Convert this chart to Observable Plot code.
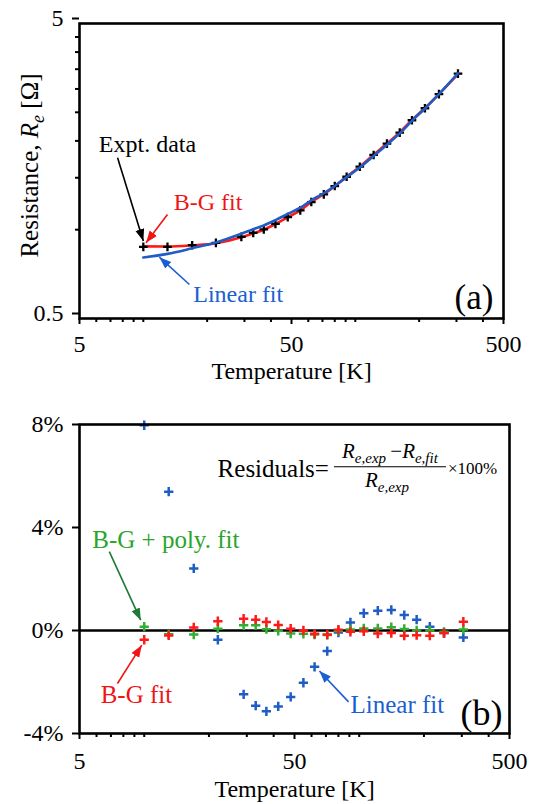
<!DOCTYPE html>
<html><head><meta charset="utf-8">
<script src="https://cdn.jsdelivr.net/npm/d3@7"></script>
<script src="https://cdn.jsdelivr.net/npm/@observablehq/plot@0.6"></script>
<style>
html,body{margin:0;padding:0;background:#fff;}
body{width:536px;height:804px;overflow:hidden;font-family:"Liberation Serif",serif;}
#a svg,#b svg{display:block;}
</style></head><body>
<div id="a"></div><div id="b"></div>
<script>
// ---- data ----
const temps = [10,13,17,22,29,33,37,42,48,55,62,71,80,91,105,122,141,162,185,213,248,305];
const resistance = [0.875,0.875,0.886,0.902,0.946,0.976,1.003,1.047,1.103,1.163,1.241,1.318,1.406,1.512,1.635,1.792,1.957,2.133,2.35,2.58,2.88,3.38];
const bgFit = [0.878,0.877,0.885,0.899,0.942,0.972,1.000,1.045,1.102,1.163,1.242,1.320,1.405,1.513,1.635,1.794,1.959,2.137,2.354,2.585,2.882,3.368];
const linearFit = [0.805,0.828,0.865,0.905,0.969,1.004,1.034,1.078,1.131,1.187,1.258,1.329,1.407,1.507,1.624,1.778,1.941,2.120,2.339,2.576,2.883,3.389];
const residualLinear = [7.97,5.39,2.41,-0.36,-2.48,-2.92,-3.14,-2.95,-2.58,-2.03,-1.41,-0.80,-0.08,0.31,0.67,0.77,0.80,0.60,0.42,0.15,-0.10,-0.27];
const residualBG = [-0.36,-0.19,0.12,0.36,0.46,0.42,0.33,0.21,0.07,0.0,-0.13,-0.16,0.03,-0.05,-0.03,-0.12,-0.10,-0.20,-0.18,-0.20,-0.10,0.34];
const residualBGPoly = [0.15,-0.15,-0.16,0.07,0.20,0.20,0.05,-0.01,-0.12,-0.13,-0.16,-0.17,-0.02,0.04,0.08,0.08,0.13,0.06,0.0,0.0,-0.05,0.04];

const xMajorTicks = [5,50,500];
const xMinorTicks = [6,7,8,9,10,20,30,40,60,70,80,90,100,200,300,400];
const yMajorTicksA = [0.5,5];
const yMinorTicksA = [1,1.5,2,2.5,3,3.5,4,4.5];
const yTicksB = [8,4,0,-4];

const annotationsA = [
  {t:6.17, v:1.95, label:"Expt. data", color:"#000"},
  {t:13.9, v:1.234, label:"B-G fit", color:"#f01414"},
  {t:17.2, v:0.603, label:"Linear fit", color:"#1a5fd2"}
];
const arrowsA = [
  {t1:7.56, v1:1.754, t2:10.0, v2:0.915, color:"#000"},
  {t1:13.0, v1:1.126, t2:10.3, v2:0.903, color:"#f01414"},
  {t1:16.5, v1:0.652, t2:11.9, v2:0.807, color:"#1a5fd2"}
];
const annotationsB = [
  {t:5.73, v:3.51, label:"B-G + poly. fit", color:"#2aa52a"},
  {t:6.27, v:-2.51, label:"B-G fit", color:"#f01414"},
  {t:91.1, v:-2.90, label:"Linear fit", color:"#1a5fd2"}
];
const arrowsB = [
  {t1:6.88, v1:3.06, t2:9.63, v2:0.40, color:"#1e7a34"},
  {t1:7.51, v1:-2.06, t2:9.74, v2:-0.57, color:"#f01414"},
  {t1:89.2, v1:-2.77, t2:65.3, v2:-1.57, color:"#1a5fd2"}
];
const panelA = [{t:448, v:0.587, label:"(a)"}];
const panelB = [{t:464, v:-3.22, label:"(b)"}];

// ---- styles ----
const FONT = "Liberation Serif";
const RED = "#ff1a1a", BLUE = "#1f5cc4", GREEN = "#30b030";

const rowsA = temps.map((t,i)=>({t, r:resistance[i], bg:bgFit[i], lin:linearFit[i]}));
const rowsB = temps.map((t,i)=>({t, lin:residualLinear[i], bg:residualBG[i], poly:residualBGPoly[i]}));

function fixMarkers(svg){
  svg.querySelectorAll("marker").forEach(m=>{
    const c = m.getAttribute("stroke") || "#000";
    m.setAttribute("viewBox","-12 -6 12 12");
    m.setAttribute("markerUnits","userSpaceOnUse");
    m.setAttribute("markerWidth","12");
    m.setAttribute("markerHeight","12");
    m.setAttribute("fill", c);
    m.setAttribute("stroke","none");
    const p = m.querySelector("path");
    if (p) p.setAttribute("d","M-12,-4.5L0,0L-12,4.5Z");
  });
}

const common = {fontFamily:FONT, fontSize:"24px", background:"transparent", color:"#000", overflow:"visible"};

const plotA = Plot.plot({
  width:536, height:400, marginLeft:79, marginRight:33, marginTop:23, marginBottom:82,
  style: common,
  x:{type:"log", domain:[5,500]},
  y:{type:"log", domain:[0.5,5]},
  marks:[
    Plot.axisX({ticks:xMinorTicks, tickSize:4, tickFormat:()=>"", strokeWidth:2, label:null}),
    Plot.axisX({ticks:xMajorTicks, tickSize:6, tickPadding:10, tickFormat:d=>String(d), strokeWidth:2, label:null, fontSize:24}),
    Plot.axisY({ticks:yMinorTicksA, tickSize:4, tickFormat:()=>"", strokeWidth:2, label:null}),
    Plot.axisY({ticks:yMajorTicksA, tickSize:7, tickPadding:9, tickFormat:d=>String(d), strokeWidth:2, label:null, fontSize:24, dy:-5}),
    Plot.line(rowsA, {x:"t", y:"bg", stroke:RED, strokeWidth:2.6, curve:"monotone-x"}),
    Plot.dot(rowsA, {x:"t", y:"r", symbol:"plus", r:2.9, stroke:"#000", strokeWidth:2.3}),
    Plot.line(rowsA, {x:"t", y:"lin", stroke:BLUE, strokeWidth:2.6, curve:"monotone-x"}),
    Plot.link(arrowsA, {x1:"t1", y1:"v1", x2:"t2", y2:"v2", stroke:d=>d.color, strokeWidth:1.6, markerEnd:"arrow"}),
    Plot.text(annotationsA, {x:"t", y:"v", text:"label", fill:"color", textAnchor:"start", fontSize:24}),
    Plot.text(panelA, {x:"t", y:"v", text:"label", textAnchor:"end", fontSize:35}),
    Plot.text(["Temperature [K]"], {frameAnchor:"bottom", lineAnchor:"middle", dy:53, fontSize:24}),
    Plot.frame({stroke:"#000", strokeWidth:2.6})
  ]
});
document.getElementById("a").appendChild(plotA);

// y-axis label with italic R and subscript e
{
  const yc = (23 + (400-82))/2 - 5;
  const t = d3.select(plotA).append("text")
    .attr("transform", `translate(29,${yc}) rotate(-90)`)
    .attr("text-anchor","middle")
    .attr("font-family", FONT).attr("font-size", 25).attr("fill","#000")
    .attr("dy","0.35em");
  t.append("tspan").text("Resistance, ");
  t.append("tspan").attr("font-style","italic").text("R");
  t.append("tspan").attr("font-style","italic").attr("font-size",18).attr("dy",6).text("e");
  t.append("tspan").attr("dy",-6).text(" [Ω]");
}

const plotB = Plot.plot({
  width:536, height:404, marginLeft:79, marginRight:27, marginTop:24, marginBottom:71,
  style: common,
  x:{type:"log", domain:[5,500]},
  y:{domain:[-4,8]},
  marks:[
    Plot.axisX({ticks:xMinorTicks, tickSize:4, tickFormat:()=>"", strokeWidth:2, label:null}),
    Plot.axisX({ticks:xMajorTicks, tickSize:6, tickPadding:12, tickFormat:d=>String(d), strokeWidth:2, label:null, fontSize:24}),
    Plot.axisY({ticks:yTicksB, tickSize:7, tickPadding:9, tickFormat:d=>d+"%", strokeWidth:2, label:null, fontSize:24}),
    Plot.ruleY([0], {stroke:"#000", strokeWidth:2.6}),
    Plot.dot(rowsB, {x:"t", y:"lin", symbol:"plus", r:3.1, stroke:BLUE, strokeWidth:2.5}),
    Plot.dot(rowsB, {x:"t", y:"poly", symbol:"plus", r:3.1, stroke:GREEN, strokeWidth:2.5}),
    Plot.dot(rowsB, {x:"t", y:"bg", symbol:"plus", r:3.1, stroke:RED, strokeWidth:2.5}),
    Plot.link(arrowsB, {x1:"t1", y1:"v1", x2:"t2", y2:"v2", stroke:d=>d.color, strokeWidth:1.6, markerEnd:"arrow"}),
    Plot.text(annotationsB, {x:"t", y:"v", text:"label", fill:"color", textAnchor:"start", fontSize:25}),
    Plot.text(panelB, {x:"t", y:"v", text:"label", textAnchor:"end", fontSize:36}),
    Plot.text(["Temperature [K]"], {frameAnchor:"bottom", lineAnchor:"middle", dy:56, fontSize:24}),
    Plot.frame({stroke:"#000", strokeWidth:2.6})
  ]
});
document.getElementById("b").appendChild(plotB);

fixMarkers(plotA);
fixMarkers(plotB);

// residual formula, anchored via the panel's scales
{
  const sx = plotB.scale("x"), sy = plotB.scale("y");
  const x0 = sx.apply(76.7), y0 = sy.apply(6.34);
  const w = 112;
  const g = d3.select(plotB).append("g").attr("font-family", FONT).attr("fill","#000");
  g.append("text").attr("x", x0-5).attr("y", y0+10).attr("text-anchor","end").attr("font-size",25).text("Residuals=");
  g.append("line").attr("x1", x0).attr("x2", x0+w).attr("y1", y0).attr("y2", y0).attr("stroke","#000").attr("stroke-width",1.2);
  const num = g.append("text").attr("x", x0+w/2).attr("y", y0-9).attr("text-anchor","middle").attr("font-size",21);
  num.append("tspan").attr("font-style","italic").text("R");
  num.append("tspan").attr("font-style","italic").attr("font-size",15).attr("dy",5).text("e,exp");
  num.append("tspan").attr("dy",-5).text("\u2009\u2212");
  num.append("tspan").attr("font-style","italic").text("R");
  num.append("tspan").attr("font-style","italic").attr("font-size",15).attr("dy",5).text("e,fit");
  const den = g.append("text").attr("x", x0+w/2-3).attr("y", y0+20).attr("text-anchor","middle").attr("font-size",21);
  den.append("tspan").attr("font-style","italic").text("R");
  den.append("tspan").attr("font-style","italic").attr("font-size",15).attr("dy",5).text("e,exp");
  g.append("text").attr("x", x0+w+2).attr("y", y0+7).attr("text-anchor","start").attr("font-size",17).text("\u00d7100%");
}
</script>
</body></html>
